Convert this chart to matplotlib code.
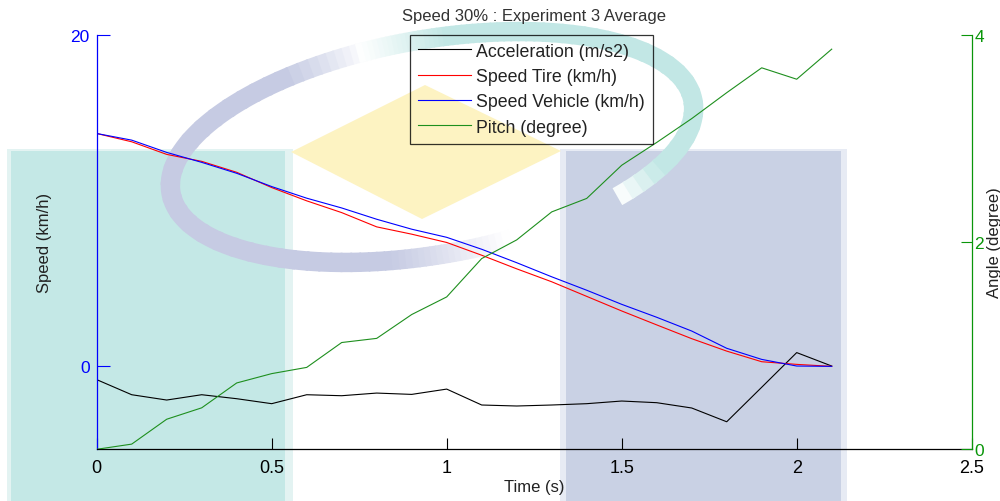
import matplotlib
matplotlib.use('Agg')
import matplotlib.pyplot as plt
import numpy as np
from matplotlib.patches import Rectangle, Polygon, Arc
from matplotlib.colors import to_rgb

plt.rcParams['font.family'] = ['Liberation Sans', 'DejaVu Sans']

time_s = [0.0, 0.1, 0.2, 0.3, 0.4, 0.5, 0.6, 0.7, 0.8, 0.9, 1.0,
          1.1, 1.2, 1.3, 1.4, 1.5, 1.6, 1.7, 1.8, 1.9, 2.0, 2.1]
acceleration = [-0.80, -1.71, -2.03, -1.71, -1.95, -2.25, -1.71, -1.77, -1.61, -1.69, -1.37,
                -2.33, -2.39, -2.33, -2.25, -2.09, -2.19, -2.51, -3.34, -1.26, 0.83, 0.02]
speed_tire = [14.04, 13.54, 12.78, 12.36, 11.70, 10.78, 9.98, 9.27, 8.41, 7.97, 7.47,
              6.70, 5.88, 5.10, 4.22, 3.34, 2.50, 1.67, 0.92, 0.28, 0.12, 0.0]
speed_vehicle = [14.04, 13.64, 12.90, 12.30, 11.64, 10.84, 10.14, 9.55, 8.87, 8.27, 7.78,
                 7.06, 6.25, 5.40, 4.59, 3.74, 2.96, 2.13, 1.09, 0.42, 0.02, 0.0]
pitch = [0.0, 0.05, 0.29, 0.40, 0.64, 0.73, 0.79, 1.03, 1.07, 1.30, 1.47,
         1.84, 2.02, 2.29, 2.42, 2.74, 2.96, 3.19, 3.44, 3.68, 3.57, 3.86]

title = 'Speed 30% : Experiment 3 Average'
labels = ['Acceleration (m/s2)', 'Speed Tire (km/h)', 'Speed Vehicle (km/h)', 'Pitch (degree)']

W, H = 1000, 502
fig = plt.figure(figsize=(W / 100, H / 100), dpi=100)


def faded_arc(axis, t1, t2, color, fade_in, fade_out, **kw):
    # small opaque pieces, mixed with white towards the ends (no seams)
    c = np.array(to_rgb(color))
    edges = np.linspace(t1, t2, 60)
    for a, b in zip(edges[:-1], edges[1:]):
        m = (a + b) / 2
        f = min(1.0, (m - t1) / fade_in if fade_in else 1.0,
                (t2 - m) / fade_out if fade_out else 1.0)
        col = 1 - f * (1 - c)
        axis.add_patch(Arc(theta1=a, theta2=b + 0.6, color=col, capstyle='butt', **kw))


# faint watermark behind the plot, in pixel coords (y up)
bg = fig.add_axes([0, 0, 1, 1], zorder=-10)
bg.set_xlim(0, W)
bg.set_ylim(0, H)
bg.axis('off')
bg.add_patch(Rectangle((7, 0), 286, 352, color='#e3f3f2', lw=0))
bg.add_patch(Rectangle((11, 0), 274, 350, color='#c4e8e6', lw=0))
bg.add_patch(Rectangle((560, 0), 287, 352, color='#e7ebf4', lw=0))
bg.add_patch(Rectangle((566, 0), 275, 350, color='#c9d1e4', lw=0))
bg.add_patch(Polygon([(291, 349), (425, 416), (561, 350), (422, 282)],
                     closed=True, color='#fdf3c2', lw=0))
ell = dict(xy=(432, 354), width=530, height=215, angle=10, lw=14)
faded_arc(bg, 115, 300, '#c6cbe3', 30, 60, **ell)
faded_arc(bg, -25, 118, '#c2e7e5', 10, 45, **ell)

ax = fig.add_axes([0.0967, 0.103, 0.875, 0.826])
ax.patch.set_visible(False)
ax2 = ax.twinx()

blue = '#0000ff'
green = '#0a960a'
txt = '#222222'

h1, = ax.plot(time_s, acceleration, color='black', lw=0.8)
h2, = ax.plot(time_s, speed_tire, color='#ff0000', lw=0.8)
h3, = ax.plot(time_s, speed_vehicle, color=blue, lw=0.8)
h4, = ax2.plot(time_s, pitch, color='#1e8f1e', lw=0.8)

ax.set_xlim(0, 2.5)
ax.set_ylim(-5, 20)
ax.set_yticks([0, 20])
ax.set_xticks([0, 0.5, 1, 1.5, 2, 2.5])
ax.set_xticklabels(['0', '0.5', '1', '1.5', '2', '2.5'])
ax2.set_ylim(0, 4)
ax2.set_yticks([0, 2, 4])

for s in ['top', 'right']:
    ax.spines[s].set_visible(False)
for s in ['top', 'left', 'bottom']:
    ax2.spines[s].set_visible(False)
ax.spines['left'].set_color(blue)
ax.spines['bottom'].set_color('black')
ax2.spines['right'].set_color(green)
for sp in list(ax.spines.values()) + list(ax2.spines.values()):
    sp.set_linewidth(0.9)

ax.tick_params(axis='y', colors=blue, direction='in', length=9, labelsize=12.5, pad=5)
ax.tick_params(axis='x', colors='black', direction='in', length=8, labelsize=13, pad=7)
ax2.tick_params(axis='y', colors=green, direction='in', length=8, labelsize=12.5, pad=2)

ax.set_ylabel('Speed (km/h)', fontsize=12, color=txt)
ax.yaxis.set_label_coords(-0.051, 0.5)
ax2.set_ylabel('Angle (degree)', fontsize=12, color=txt)
ax2.yaxis.set_label_coords(1.0175, 0.5)
ax.set_xlabel('Time (s)', fontsize=12, color=txt)
ax.xaxis.set_label_coords(0.5, -0.072)

fig.text(0.534, 1 - 16 / H, title, ha='center', va='center', fontsize=12, color='#333333')

leg = fig.legend([h1, h2, h3, h4], labels, loc='upper left',
                 bbox_to_anchor=(0.410, 1 - 35.7 / H), borderaxespad=0,
                 fontsize=12.75, frameon=True, fancybox=False, facecolor='none',
                 edgecolor='black', handlelength=3.0, handletextpad=0.3,
                 labelspacing=0.47, borderpad=0.45)
leg.get_frame().set_linewidth(0.9)
for t in leg.get_texts():
    t.set_color(txt)

fig.savefig('out.png', dpi=100)
